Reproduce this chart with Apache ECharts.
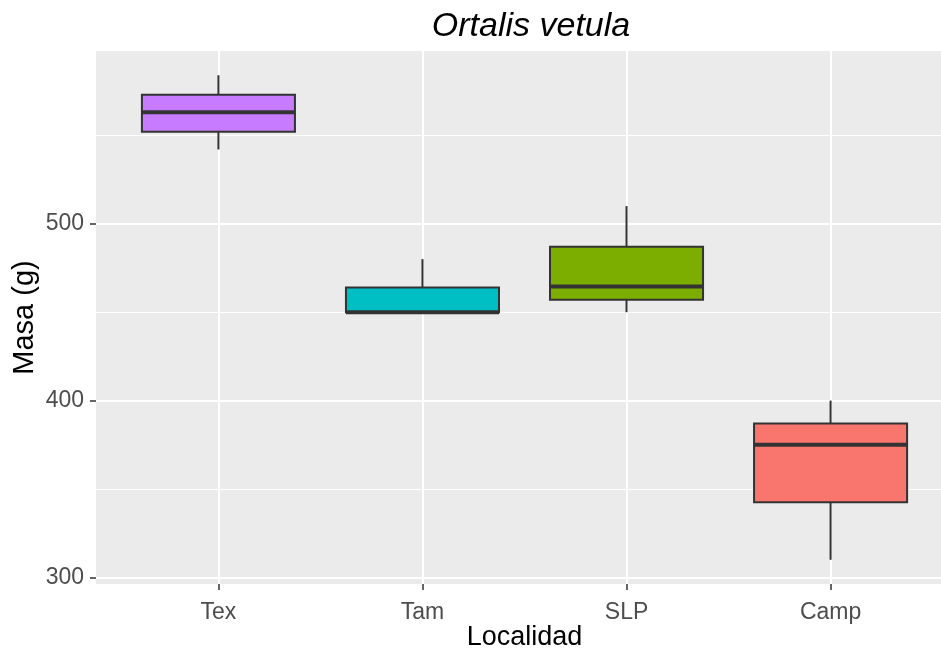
<!DOCTYPE html>
<html>
<head>
<meta charset="utf-8">
<script src="https://cdn.jsdelivr.net/npm/echarts@6/dist/echarts.min.js"></script>
<style>
  html, body { margin: 0; padding: 0; background: #ffffff; }
  #chart { width: 941px; height: 653px; }
</style>
</head>
<body>
<div id="chart"></div>
<script>
// Body mass of Ortalis vetula by locality: five-number summaries per box
const categories = ['Tex', 'Tam', 'SLP', 'Camp'];
const whiskerLow = [542, 450, 450, 310];
const quartile1  = [552, 450, 457, 342.5];
const medians    = [563, 450, 464.5, 375];
const quartile3  = [573, 464, 487, 387];
const whiskerHigh = [584, 480, 510, 400];
const fillColors = ['#C77CFF', '#00BFC4', '#7CAE00', '#F8766D'];

const majorTicks = [300, 400, 500];
const minorTicks = [350, 450, 550];
const categoryPositions = categories.map((c, i) => i + 1);

// ggplot-style padded ranges
const yRange = [Math.min(...whiskerLow), Math.max(...whiskerHigh)];
const yPad = (yRange[1] - yRange[0]) * 0.05;
const BOX_WIDTH = 0.75;

const boxData = categories.map((c, i) => [
  i + 1, whiskerLow[i], quartile1[i], medians[i], quartile3[i], whiskerHigh[i]
]);

const FONT = 'Liberation Sans, Arial, sans-serif';
const INK = '#333333';

const chart = echarts.init(document.getElementById('chart'), null, { renderer: 'canvas' });

chart.setOption({
  backgroundColor: '#ffffff',
  animation: false,
  title: {
    text: 'Ortalis vetula',
    left: 526,
    top: 5,
    textAlign: 'center',
    textStyle: { fontFamily: FONT, fontStyle: 'italic', fontWeight: 'normal', fontSize: 34, color: '#000000' }
  },
  grid: {
    left: 96, top: 51, width: 857, height: 533,
    outerBoundsMode: 'none',
    containLabel: false,
    backgroundColor: '#EBEBEB', show: true, borderWidth: 0
  },
  xAxis: {
    type: 'value',
    min: 0.4,
    max: 4.6,
    name: 'Localidad',
    nameLocation: 'middle',
    nameGap: 40,
    nameMoveOverlap: false,
    nameTextStyle: { fontFamily: FONT, fontSize: 27, color: '#000000' },
    axisLine: { show: false },
    axisTick: { show: true, customValues: categoryPositions, length: 6, lineStyle: { color: INK, width: 1.5 } },
    axisLabel: {
      customValues: categoryPositions,
      margin: 17,
      fontFamily: FONT, fontSize: 23, color: '#4D4D4D',
      formatter: v => categories[Math.round(v) - 1] || ''
    },
    splitLine: { show: true, lineStyle: { color: '#ffffff', width: 2 } }
  },
  yAxis: [
    {
      type: 'value',
      min: yRange[0] - yPad,
      max: yRange[1] + yPad,
      name: 'Masa (g)',
      nameLocation: 'middle',
      nameGap: 57,
      nameMoveOverlap: false,
      nameRotate: 90,
      nameTextStyle: { fontFamily: FONT, fontSize: 29, color: '#000000' },
      axisLine: { show: false },
      axisTick: { show: true, customValues: majorTicks, length: 6, lineStyle: { color: INK, width: 1.5 } },
      axisLabel: { customValues: majorTicks, margin: 12, fontFamily: FONT, fontSize: 23, color: '#4D4D4D' },
      splitLine: { show: true, lineStyle: { color: '#ffffff', width: 2 } }
    },
    {
      // minor grid lines only
      type: 'value',
      position: 'left',
      min: yRange[0] - yPad,
      max: yRange[1] + yPad,
      axisLine: { show: false },
      axisTick: { show: false, customValues: minorTicks },
      axisLabel: { show: false, customValues: minorTicks },
      splitLine: { show: true, lineStyle: { color: '#ffffff', width: 1 } }
    }
  ],
  series: [{
    type: 'custom',
    xAxisIndex: 0,
    yAxisIndex: 0,
    data: boxData,
    encode: { x: 0, y: [1, 2, 3, 4, 5] },
    renderItem(params, api) {
      const x = api.value(0);
      const low = api.coord([x, api.value(1)]);
      const q1 = api.coord([x, api.value(2)]);
      const med = api.coord([x, api.value(3)]);
      const q3 = api.coord([x, api.value(4)]);
      const high = api.coord([x, api.value(5)]);
      const half = api.size([BOX_WIDTH, 0])[0] / 2;
      const cx = low[0];
      const lineStyle = { stroke: INK, lineWidth: 2 };
      return {
        type: 'group',
        children: [
          { type: 'line', shape: { x1: cx, y1: low[1], x2: cx, y2: q1[1] }, style: lineStyle },
          { type: 'line', shape: { x1: cx, y1: q3[1], x2: cx, y2: high[1] }, style: lineStyle },
          {
            type: 'rect',
            shape: { x: cx - half, y: q3[1], width: 2 * half, height: q1[1] - q3[1] },
            style: { fill: fillColors[params.dataIndex], stroke: INK, lineWidth: 2 }
          },
          { type: 'line', shape: { x1: cx - half, y1: med[1], x2: cx + half, y2: med[1] }, style: { stroke: INK, lineWidth: 4 } }
        ]
      };
    }
  }]
});
</script>
</body>
</html>
